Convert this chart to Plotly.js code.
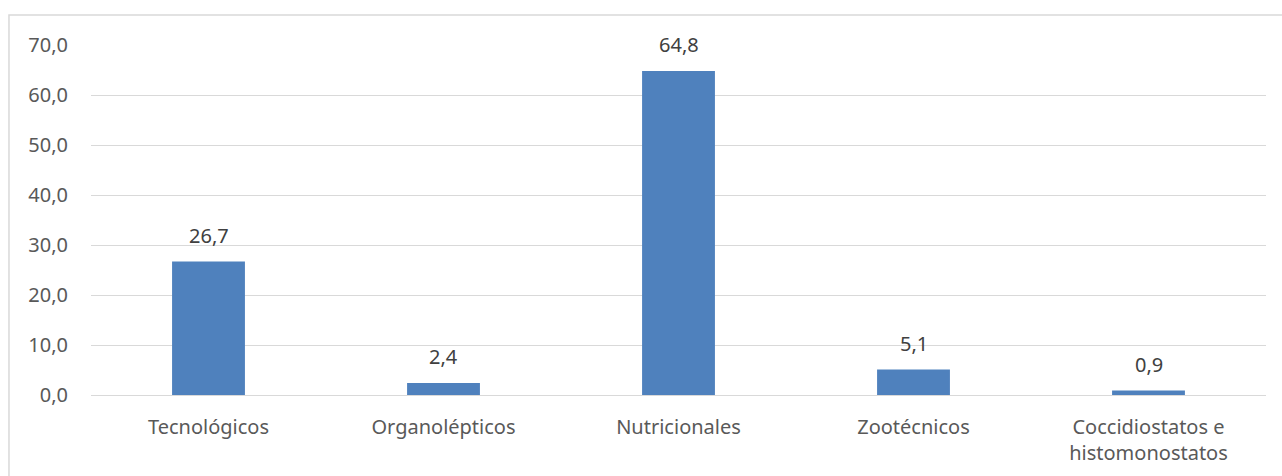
<!DOCTYPE html>
<html>
<head>
<meta charset="utf-8">
<script src="https://cdn.plot.ly/plotly-3.0.1.min.js"></script>
<style>html,body{margin:0;padding:0;background:#fff;}#chart{width:1282px;height:476px;}</style>
</head>
<body>
<div id="chart"></div>
<script>
const categories = ["Tecnológicos", "Organolépticos", "Nutricionales", "Zootécnicos", "Coccidiostatos e<br>histomonostatos"];
const values = [26.7, 2.4, 64.8, 5.1, 0.9];
const tickVals = [0, 10, 20, 30, 40, 50, 60, 70];
const tickText = tickVals.map(v => v.toFixed(1).replace('.', ','));
const labels = values.map(v => v.toFixed(1).replace('.', ','));

const FONT = 'Noto Sans, sans-serif';

const trace = {
  type: 'bar',
  x: categories,
  y: values,
  marker: {color: '#4F81BD'},
  hoverinfo: 'none'
};

const dataLabels = categories.map((c, i) => ({
  x: c, y: values[i], xref: 'x', yref: 'y',
  text: labels[i], showarrow: false,
  yanchor: 'bottom', yshift: 11,
  font: {family: FONT, size: 20, color: '#404040'}
}));

const layout = {
  width: 1282, height: 476,
  margin: {l: 91, r: 16, t: 45, b: 81},
  paper_bgcolor: '#ffffff',
  plot_bgcolor: '#ffffff',
  bargap: 0.69,
  showlegend: false,
  font: {family: FONT, size: 20, color: '#595959'},
  xaxis: {
    showgrid: false, showline: false, zeroline: false, ticks: '',
    ticklabelstandoff: 18,
    tickfont: {family: FONT, size: 20, color: '#595959'}
  },
  yaxis: {
    range: [0, 70], tickvals: tickVals, ticktext: tickText,
    showgrid: true, gridcolor: '#d9d9d9', gridwidth: 1,
    zeroline: true, zerolinecolor: '#d9d9d9', zerolinewidth: 1,
    showline: false, ticks: '', ticklabelstandoff: 22,
    tickfont: {family: FONT, size: 20, color: '#595959'}
  },
  annotations: dataLabels,
  shapes: [{
    type: 'rect', xref: 'paper', yref: 'paper',
    x0: -0.0698, x1: 1.1, y0: -0.5, y1: 1.0857,
    line: {color: '#d9d9d9', width: 1.5}, fillcolor: 'rgba(0,0,0,0)', layer: 'below'
  }]
};

Plotly.newPlot('chart', [trace], layout, {displayModeBar: false, staticPlot: true});
</script>
</body>
</html>
